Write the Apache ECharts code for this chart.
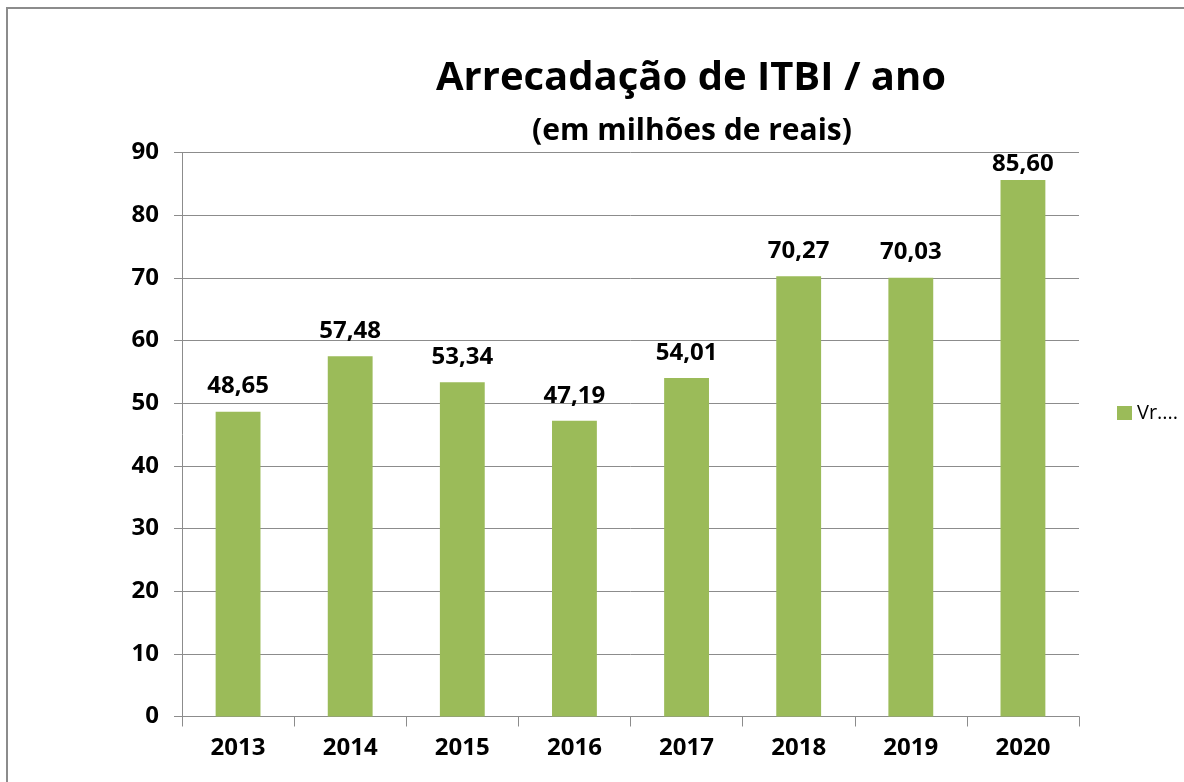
<!DOCTYPE html>
<html>
<head>
<meta charset="utf-8">
<script src="https://cdn.jsdelivr.net/npm/echarts@6/dist/echarts.min.js"></script>
<style>
html,body{margin:0;padding:0;background:#fff;}
#chart{width:1184px;height:782px;}
</style>
</head>
<body>
<div id="chart"></div>
<script>
var categories = ['2013','2014','2015','2016','2017','2018','2019','2020'];
var values = [48.65, 57.48, 53.34, 47.19, 54.01, 70.27, 70.03, 85.60];
var seriesName = 'Vr....';
var titleText = 'Arrecadação de ITBI / ano';
var subtitleText = '(em milhões de reais)';

var FONT = '"Open Sans", "Noto Sans", sans-serif';
// the top label is pushed down to stay inside the plot area, as in the reference
var barData = values.map(function (v, i) {
  return i === values.length - 1 ? {value: v, label: {distance: 4}} : v;
});
var chart = echarts.init(document.getElementById('chart'));
chart.setOption({
  animation: false,
  backgroundColor: '#fff',
  graphic: [
    {type:'rect', shape:{x:7, y:8, width:1400, height:1000}, style:{fill:'none', stroke:'#8c8c8c', lineWidth:2}, silent:true, z:-10},
    {type:'text', x:691, y:79, style:{text:titleText, font:'bold 40px ' + FONT, fill:'#000', textAlign:'center', textVerticalAlign:'middle'}},
    {type:'text', x:692, y:131, style:{text:subtitleText, font:'bold 30px ' + FONT, fill:'#000', textAlign:'center', textVerticalAlign:'middle'}}
  ],
  grid: {left:182, right:105, top:152.5, bottom:65.5, containLabel:false},
  legend: {
    show:true, orient:'vertical', left:1112, top:398,
    itemWidth:15, itemHeight:14, itemGap:6,
    textStyle:{fontFamily:FONT, fontSize:20, color:'#000'},
    icon:'rect',
    data:[seriesName]
  },
  xAxis: {
    type:'category', data:categories, boundaryGap:true,
    axisLine:{show:true, lineStyle:{color:'#8c8c8c', width:1}},
    axisTick:{show:true, length:10, alignWithLabel:false, lineStyle:{color:'#8c8c8c'}},
    axisLabel:{fontFamily:FONT, fontWeight:'bold', fontSize:24, color:'#000', margin:20},
    splitLine:{show:false}
  },
  yAxis: {
    type:'value', min:0, max:90, interval:10,
    axisLine:{show:true, lineStyle:{color:'#8c8c8c', width:1}},
    axisTick:{show:true, length:8, inside:false, lineStyle:{color:'#8c8c8c'}},
    axisLabel:{fontFamily:FONT, fontWeight:'bold', fontSize:24, color:'#000', margin:23},
    splitLine:{show:true, lineStyle:{color:'#8c8c8c', width:1}}
  },
  series: [{
    name:seriesName, type:'bar', data:barData,
    barWidth:'40%',
    itemStyle:{color:'#9bbb59'},
    label:{show:true, position:'top', distance:13, fontFamily:FONT, fontWeight:'bold', fontSize:24, color:'#000',
      formatter:function(p){return p.value.toFixed(2).replace('.', ',');}}
  }]
});
</script>
</body>
</html>
